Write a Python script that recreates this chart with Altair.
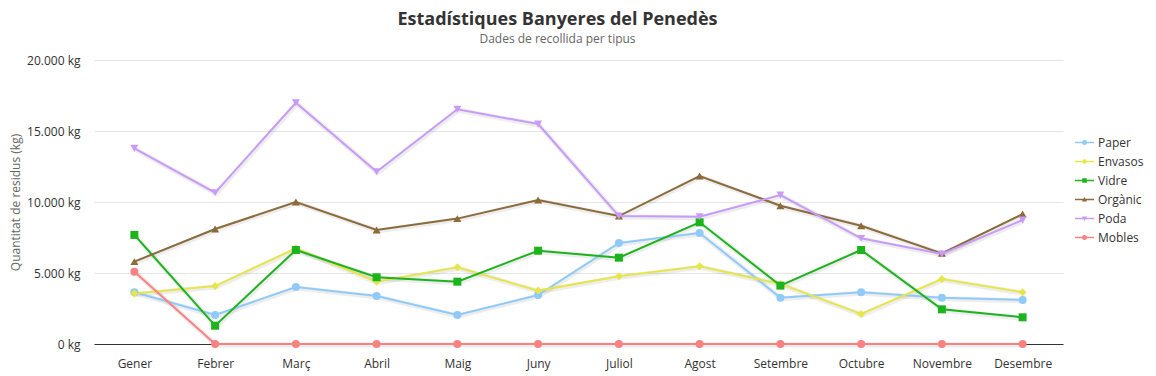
import altair as alt
import pandas as pd

months = ["Gener", "Febrer", "Març", "Abril", "Maig", "Juny", "Juliol",
          "Agost", "Setembre", "Octubre", "Novembre", "Desembre"]
series = ["Paper", "Envasos", "Vidre", "Orgànic", "Poda", "Mobles"]
colors = ["#90CAF9", "#E6E64C", "#1DB31D", "#8B6B3A", "#C89BF9", "#F88282"]

paper = [3650, 2040, 4010, 3380, 2040, 3450, 7110, 7820, 3260, 3640, 3260, 3100]
envasos = [3550, 4080, 6740, 4390, 5400, 3760, 4770, 5470, 4230, 2110, 4580, 3640]
vidre = [7680, 1290, 6620, 4700, 4390, 6570, 6080, 8570, 4110, 6620, 2440, 1880]
organic = [5800, 8100, 10000, 8030, 8830, 10140, 9010, 11830, 9740, 8330, 6380, 9150]
poda = [13780, 10660, 16990, 12130, 16530, 15490, 9010, 8960, 10490, 7440, 6340, 8730]
mobles = [5090, 0, 0, 0, 0, 0, 0, 0, 0, 0, 0, 0]

values = [paper, envasos, vidre, organic, poda, mobles]
rows = []
for s, vals in zip(series, values):
    for m, v in zip(months, vals):
        rows.append({"month": m, "series": s, "value": v})
df = pd.DataFrame(rows)

legend_df = pd.DataFrame({"month": ["Gener"] * len(series), "series": series,
                          "value": [-60000] * len(series)})

marker_shapes = ["circle", "diamond", "square", "triangle-up", "triangle-down", "circle"]
bar = "M-1,-0.07H1V0.07H-1Z"
legend_paths = [
    bar + "M0.27,0A0.27,0.27 0 1,1 -0.27,0A0.27,0.27 0 1,1 0.27,0Z",
    bar + "M0,-0.3L0.3,0L0,0.3L-0.3,0Z",
    bar + "M-0.24,-0.24H0.24V0.24H-0.24Z",
    bar + "M0,-0.27L0.27,0.22L-0.27,0.22Z",
    bar + "M-0.27,-0.22L0.27,-0.22L0,0.27Z",
    bar + "M0.27,0A0.27,0.27 0 1,1 -0.27,0A0.27,0.27 0 1,1 0.27,0Z",
]

FONT = "Open Sans"

x_enc = alt.X("month:N", sort=months, title=None,
              scale=alt.Scale(type="point", padding=0.5),
              axis=alt.Axis(labelAngle=0, ticks=False, domain=True, domainColor="#333333",
                            labelColor="#333333", labelFontSize=12, labelPadding=14,
                            labelFont=FONT, grid=False))
y_enc = alt.Y("value:Q", title="Quantitat de residus (kg)",
              scale=alt.Scale(domain=[0, 20000], nice=False, zero=True),
              axis=alt.Axis(values=[0, 5000, 10000, 15000, 20000], domain=False, ticks=False,
                            labelExpr="replace(format(datum.value, ','), ',', '.') + ' kg'",
                            labelColor="#333333", labelFontSize=12, labelFont=FONT,
                            labelPadding=14, gridColor="#e6e6e6",
                            titleColor="#666666", titleFontSize=12, titleFont=FONT,
                            titleFontWeight="normal", titlePadding=4))

color_scale = alt.Scale(domain=series, range=colors)

shadow = alt.Chart(df).mark_line(color="black", opacity=0.07, strokeWidth=5,
                                 xOffset=1, yOffset=1).encode(
    x=x_enc, y=y_enc, detail="series:N")

lines = alt.Chart(df).mark_line(strokeWidth=2).encode(
    x=x_enc, y=y_enc,
    color=alt.Color("series:N", scale=color_scale, legend=None))

points = alt.Chart(df).mark_point(filled=True, opacity=1, size=64).encode(
    x=x_enc, y=y_enc,
    color=alt.Color("series:N", scale=color_scale, legend=None),
    shape=alt.Shape("series:N", scale=alt.Scale(domain=series, range=marker_shapes), legend=None))

leg = alt.Legend(title=None, orient="none", legendX=981, legendY=73,
                 symbolSize=361, labelFontSize=12, labelColor="#333333", labelFont=FONT,
                 rowPadding=3, labelOffset=4, symbolStrokeWidth=0)

legend_layer = alt.Chart(legend_df).mark_point(filled=True, opacity=1, clip=True, size=361).encode(
    x=x_enc, y=y_enc,
    color=alt.Color("series:N", scale=color_scale, legend=leg),
    shape=alt.Shape("series:N", scale=alt.Scale(domain=series, range=legend_paths), legend=leg))

chart = alt.layer(shadow, lines, points, legend_layer).resolve_scale(
    color="independent", shape="independent"
).properties(
    width=969, height=284,
    view=alt.ViewBackground(stroke="transparent", strokeWidth=0),
    title=alt.TitleParams(
        text="Estadístiques Banyeres del Penedès",
        subtitle="Dades de recollida per tipus",
        anchor="middle", dx=-21, offset=9,
        font=FONT, fontSize=18, fontWeight="bold", color="#333333",
        subtitleFont=FONT, subtitleFontSize=12, subtitleColor="#666666", subtitlePadding=5),
    autosize=alt.AutoSizeParams(type="none"),
    padding={"left": 86, "top": 52, "right": 85, "bottom": 32},
).configure(background="white").configure_view(strokeWidth=0, stroke="transparent")

chart.save("out.html", embed_options={"renderer": "svg", "actions": False})
